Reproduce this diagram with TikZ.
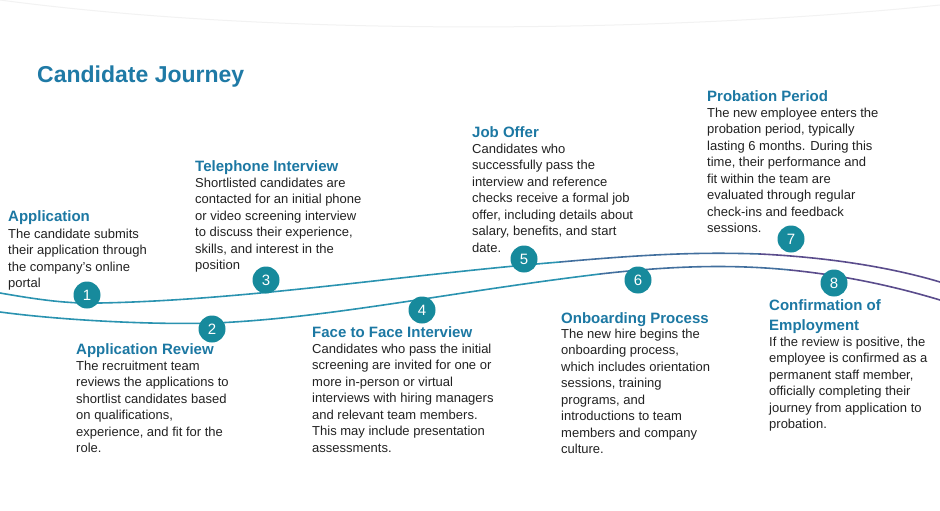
\documentclass[tikz,border=0pt]{standalone}
\usepackage{fontspec}
\setmainfont{Liberation Sans}
\definecolor{ttl}{HTML}{1F7AA6}
\definecolor{hd}{HTML}{1C78A3}
\definecolor{dot}{HTML}{178A9C}
\definecolor{tl}{HTML}{2A93B0}
\definecolor{pp}{HTML}{5A4C8C}
\definecolor{txt}{HTML}{222222}
\begin{document}
\begin{tikzpicture}[x=1pt,y=-1pt,
  hdg/.style={anchor=base west,inner sep=0pt,font=\fontsize{15}{18}\selectfont\bfseries,text=hd,align=left},
  body/.style={anchor=north west,inner sep=0pt,font=\fontsize{13}{16.5}\selectfont,text=txt,align=left},
  num/.style={circle,fill=dot,minimum size=27pt,inner sep=0pt,text=white,font=\fontsize{15}{15}\selectfont}]
\useasboundingbox (0,0) rectangle (940,511);
\fill[white] (0,0) rectangle (940,511);
\draw[black!5,line width=1pt] (0,0) .. controls (300,40) and (700,30) .. (940,5);
% upper wave
\draw[tl,line width=1.6pt] (0,293) .. controls (40,300) and (70,304) .. (100,303)
  .. controls (250,300) and (400,275) .. (560,262);
\draw[tl!50!pp,line width=1.6pt] (560,262) .. controls (650,254) and (700,252) .. (760,254);
\draw[pp,line width=1.6pt] (760,254) .. controls (840,258) and (900,270) .. (940,282);
% lower wave
\draw[tl,line width=1.6pt] (0,312) .. controls (60,320) and (150,325) .. (215,323)
  .. controls (330,318) and (450,292) .. (600,274);
\draw[tl!50!pp,line width=1.6pt] (600,274) .. controls (670,266) and (730,264) .. (790,270);
\draw[pp,line width=1.6pt] (790,270) .. controls (850,276) and (900,288) .. (940,300);
\node[anchor=base west,inner sep=0pt,font=\fontsize{23}{23}\selectfont\bfseries,text=ttl] (title) at (37,82) {Candidate Journey};
\node[num] (n1) at (87,295) {1};
\node[num] (n2) at (212,329) {2};
\node[num] (n3) at (266,280) {3};
\node[num] (n4) at (422,310) {4};
\node[num] (n5) at (524,259) {5};
\node[num] (n6) at (638,280) {6};
\node[num] (n7) at (791,239) {7};
\node[num] (n8) at (834,283) {8};
\node[hdg] (h1) at (8,221) {Application};
\node[body] (b1) at (8,228.5) {The candidate submits\\their application through\\the company’s online\\portal};
\node[hdg] (h3) at (195,171) {Telephone Interview};
\node[body] (b3) at (195,177.5) {Shortlisted candidates are\\contacted for an initial phone\\or video screening interview\\to discuss their experience,\\skills, and interest in the\\position};
\node[hdg] (h5) at (472,137) {Job Offer};
\node[body] (b5) at (472,143.5) {Candidates who\\successfully pass the\\interview and reference\\checks receive a formal job\\offer, including details about\\salary, benefits, and start\\date.};
\node[hdg] (h7) at (707,102) {Probation Period};
\node[body] (b7) at (707,107.5) {The new employee enters the\\probation period, typically\\lasting 6 months. During this\\time, their performance and\\fit within the team are\\evaluated through regular\\check-ins and feedback\\sessions.};
\node[hdg] (h2) at (76,354) {Application Review};
\node[body] (b2) at (76,360.5) {The recruitment team\\reviews the applications to\\shortlist candidates based\\on qualifications,\\experience, and fit for the\\role.};
\node[hdg] (h4) at (312,337) {Face to Face Interview};
\node[body] (b4) at (312,343.5) {Candidates who pass the initial\\screening are invited for one or\\more in-person or virtual\\interviews with hiring managers\\and relevant team members.\\This may include presentation\\assessments.};
\node[hdg] (h6) at (561,323) {Onboarding Process};
\node[body] (b6) at (561,328.5) {The new hire begins the\\onboarding process,\\which includes orientation\\sessions, training\\programs, and\\introductions to team\\members and company\\culture.};
\node[hdg,anchor=north west,font=\fontsize{15}{20}\selectfont\bfseries] (h8) at (769,299) {Confirmation of\\Employment};
\node[body] (b8) at (769,336.5) {If the review is positive, the\\employee is confirmed as a\\permanent staff member,\\officially completing their\\journey from application to\\probation.};
\end{tikzpicture}
\end{document}
